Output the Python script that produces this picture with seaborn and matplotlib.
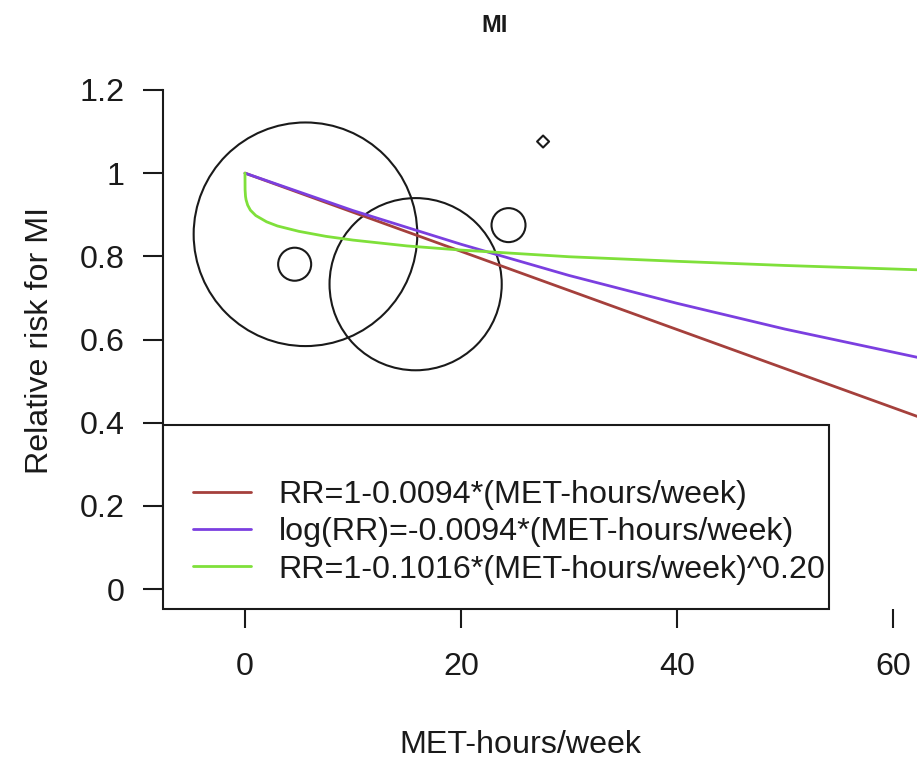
import matplotlib
matplotlib.use("Agg")
import matplotlib.pyplot as plt
import seaborn as sns
import pandas as pd
from matplotlib.patches import Rectangle

# ---------------- data ----------------
study_met = [5.6, 15.8, 4.6, 24.4, 27.6]
study_rr = [0.853, 0.733, 0.781, 0.875, 1.076]
study_weight = [100, 59.3, 2.18, 2.31, 0.144]
study_kind = ["circle", "circle", "circle", "circle", "diamond"]

linear_met = [0, 20, 40, 63]
linear_rr = [1.0, 0.812, 0.624, 0.408]

loglinear_met = [0, 10, 20, 30, 40, 50, 63]
loglinear_rr = [1.0, 0.910, 0.829, 0.754, 0.687, 0.625, 0.553]

power_met = [0, 0.01, 0.05, 0.1, 0.25, 0.5, 1, 2, 3, 5, 7.5, 10, 15, 20, 30, 40, 50, 63]
power_rr = [1.0, 0.960, 0.944, 0.936, 0.923, 0.911, 0.898, 0.883, 0.873, 0.860,
            0.848, 0.839, 0.825, 0.815, 0.799, 0.788, 0.778, 0.767]

legend_labels = ["RR=1-0.0094*(MET-hours/week)",
                 "log(RR)=-0.0094*(MET-hours/week)",
                 "RR=1-0.1016*(MET-hours/week)^0.20"]
x_ticks = [0, 20, 40, 60]
x_tick_labels = ["0", "20", "40", "60"]
y_ticks = [0, 0.2, 0.4, 0.6, 0.8, 1.0, 1.2]
y_tick_labels = ["0", "0.2", "0.4", "0.6", "0.8", "1", "1.2"]
title = "MI"
x_label = "MET-hours/week"
y_label = "Relative risk for MI"

# ---------------- styling ----------------
sns.set_theme(style="white")
plt.rcParams["font.family"] = ["Liberation Sans", "DejaVu Sans"]
ink = "#1a1a1a"
fs = 23.2

fig = plt.figure(figsize=(9.17, 7.62), dpi=100)
ax = fig.add_axes([163 / 917, 1 - 609 / 762, 754 / 917, 539 / 762])

studies = pd.DataFrame({"met": study_met, "rr": study_rr,
                        "weight": study_weight, "kind": study_kind})
sns.scatterplot(data=studies, x="met", y="rr", size="weight", style="kind",
                markers={"circle": "o", "diamond": "D"},
                sizes=(0, 25921), size_norm=(0, 100),
                facecolor="none", edgecolor=ink, linewidth=1.5,
                legend=False, ax=ax, zorder=2)

line_colors = ["#A5403C", "#7B3FE0", "#7FE03A"]
series = [(linear_met, linear_rr), (loglinear_met, loglinear_rr), (power_met, power_rr)]
for (xs, ys), col, lab in zip(series, line_colors, legend_labels):
    df = pd.DataFrame({"met": xs, "rr": ys})
    sns.lineplot(data=df, x="met", y="rr", color=col, linewidth=2.0,
                 estimator=None, sort=False, label=lab, ax=ax, zorder=3)

ax.set_xlim(-7.59, 62.22)
ax.set_ylim(-0.048, 1.248)
ax.set_xticks(x_ticks)
ax.set_xticklabels(x_tick_labels)
ax.set_yticks(y_ticks)
ax.set_yticklabels(y_tick_labels)
ax.set_xlabel("")
ax.set_ylabel("")

for s in ["top", "right", "bottom"]:
    ax.spines[s].set_visible(False)
ax.spines["left"].set_bounds(0, 1.2)
ax.spines["left"].set_linewidth(1.5)
ax.spines["left"].set_color(ink)

ax.tick_params(axis="y", left=True, direction="out", length=14.4, width=1.5,
               pad=13, labelsize=fs, color=ink, labelcolor=ink)
ax.tick_params(axis="x", bottom=True, direction="out", length=13.7, width=1.5,
               pad=17.5, labelsize=fs, color=ink, labelcolor=ink)

# legend box (R-style, bottom-left)
ax.add_patch(Rectangle((0, 0), 0.883, 0.341, transform=ax.transAxes, fill=True,
                       facecolor="white", edgecolor=ink, linewidth=1.5,
                       clip_on=False, zorder=5))
handles, labels = ax.get_legend_handles_labels()
leg = ax.legend(handles, labels, loc="center left", bbox_to_anchor=(0.0398, 0.142),
                frameon=False, fontsize=fs, handlelength=1.8, handletextpad=0.85,
                labelspacing=0.22, borderpad=0, borderaxespad=0)
leg.set_zorder(6)
for t in leg.get_texts():
    t.set_color(ink)

fig.text(495 / 917, 1 - 25 / 762, title, ha="center", va="center",
         fontsize=17, fontweight="bold", color=ink)
fig.text(40 / 917, 1 - 340 / 762, y_label, ha="center", va="center",
         rotation=90, fontsize=fs, color=ink)
fig.text(520 / 917, 1 - 745 / 762, x_label, ha="center", va="center",
         fontsize=fs, color=ink)

fig.savefig("out.png", dpi=100, facecolor="white")
